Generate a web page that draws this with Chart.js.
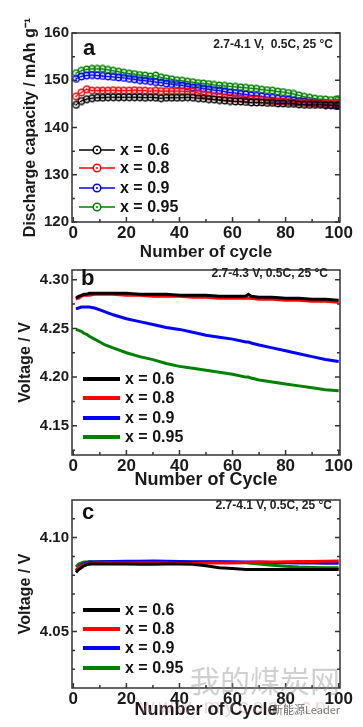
<!DOCTYPE html>
<html>
<head>
<meta charset="utf-8">
<title>Capacidad de descarga y voltaje por ciclo</title>
<script src="https://cdn.jsdelivr.net/npm/chart.js@4.4.0/dist/chart.umd.min.js"></script>
<style>
  body { margin: 0; background: #fff; }
  #wrap { position: relative; width: 363px; height: 727px; overflow: hidden; }
  canvas { position: absolute; left: 0; }
</style>
</head>
<body>
<div id="wrap">
  <canvas id="chartA" width="363" height="261" style="top:0px"></canvas>
  <canvas id="chartB" width="363" height="231" style="top:258px"></canvas>
  <canvas id="chartC" width="363" height="231" style="top:488px"></canvas>
</div>
<script>
// Series
const seriesNames = ['x = 0.6', 'x = 0.8', 'x = 0.9', 'x = 0.95'];
const seriesColors = ['#000000', '#ff0000', '#0000ff', '#008000'];

// Panel a: discharge capacity (mAh/g)
const cyclesA = [1, 3, 5, 7, 9, 11, 13, 15, 17, 19,
    21, 23, 25, 27, 29, 31, 33, 35, 37, 39,
    41, 43, 45, 47, 49, 51, 53, 55, 57, 59,
    61, 63, 65, 67, 69, 71, 73, 75, 77, 79,
    81, 83, 85, 87, 89, 91, 93, 95, 97, 99, 100];
const capA06 = [144.8, 145.6, 146.0, 146.2, 146.3, 146.3, 146.4, 146.4, 146.4, 146.4,
    146.4, 146.4, 146.4, 146.3, 146.4, 146.3, 146.2, 146.3, 146.3, 146.3,
    146.3, 146.4, 146.3, 146.2, 146.1, 146.0, 145.9, 145.8, 145.7, 145.6,
    145.5, 145.5, 145.4, 145.3, 145.3, 145.3, 145.2, 145.2, 145.1, 145.1,
    145.0, 145.0, 144.9, 144.8, 144.8, 144.8, 144.8, 144.7, 144.7, 144.6, 144.6];
const capA08 = [146.6, 147.4, 148.1, 147.8, 147.8, 147.8, 147.8, 147.9, 147.8, 147.8,
    147.8, 147.9, 147.8, 147.8, 147.7, 147.8, 147.7, 147.7, 147.7, 147.7,
    147.7, 147.6, 147.6, 147.3, 147.0, 146.8, 146.6, 146.5, 146.4, 146.3,
    146.2, 146.1, 146.0, 145.9, 145.9, 145.8, 145.7, 145.6, 145.5, 145.5,
    145.4, 145.3, 145.3, 145.2, 145.2, 145.1, 145.1, 145.0, 145.0, 145.0, 145.0];
const capA09 = [150.3, 150.8, 151.0, 151.1, 151.0, 150.9, 150.8, 150.7, 150.6, 150.5,
    150.3, 150.2, 150.0, 149.9, 149.8, 149.6, 149.5, 149.3, 149.2, 149.0,
    148.9, 148.7, 148.5, 148.4, 148.2, 148.1, 147.9, 147.8, 147.6, 147.4,
    147.3, 147.1, 147.0, 146.8, 146.7, 146.6, 146.4, 146.3, 146.1, 146.0,
    145.9, 145.7, 145.6, 145.5, 145.3, 145.2, 145.1, 144.9, 144.8, 144.6, 144.6];
const capA095 = [151.5, 152.0, 152.3, 152.4, 152.4, 152.4, 152.2, 152.0, 151.8, 151.6,
    151.4, 151.3, 151.1, 151.0, 150.8, 151.0, 150.6, 150.4, 150.2, 150.0,
    149.9, 149.7, 149.6, 149.4, 149.3, 149.2, 149.0, 148.9, 148.8, 148.7,
    148.6, 148.5, 148.4, 148.3, 148.2, 148.0, 147.9, 147.8, 147.6, 147.5,
    147.3, 147.1, 146.8, 146.5, 146.3, 146.1, 146.0, 145.9, 145.8, 145.9, 146.0];

// Panel b: voltage, 2.7-4.3 V
const cyclesB = [1, 2, 3, 4, 5, 6, 8, 10, 12, 15, 20, 25, 30, 35, 40, 45, 50, 55, 60, 65,
    66, 67, 70, 75, 80, 85, 90, 95, 100];
const voltB06 = [4.281, 4.283, 4.284, 4.285, 4.285, 4.286, 4.286, 4.286, 4.286, 4.286,
    4.286, 4.285, 4.285, 4.285, 4.284, 4.284, 4.284, 4.283, 4.283, 4.283,
    4.285, 4.283, 4.282, 4.282, 4.281, 4.281, 4.280, 4.280, 4.279];
const voltB08 = [4.280, 4.281, 4.283, 4.284, 4.284, 4.284, 4.285, 4.285, 4.285, 4.285,
    4.284, 4.284, 4.283, 4.283, 4.283, 4.282, 4.282, 4.281, 4.281, 4.281,
    4.281, 4.281, 4.280, 4.280, 4.279, 4.279, 4.278, 4.278, 4.277];
const voltB09 = [4.270, 4.271, 4.272, 4.272, 4.272, 4.272, 4.271, 4.269, 4.267, 4.264,
    4.260, 4.257, 4.254, 4.251, 4.249, 4.246, 4.243, 4.241, 4.239, 4.236,
    4.236, 4.235, 4.233, 4.230, 4.227, 4.224, 4.221, 4.218, 4.216];
const voltB095 = [4.249, 4.248, 4.247, 4.245, 4.244, 4.242, 4.239, 4.236, 4.233, 4.230,
    4.225, 4.221, 4.218, 4.214, 4.211, 4.209, 4.207, 4.205, 4.203, 4.200,
    4.200, 4.199, 4.197, 4.195, 4.193, 4.191, 4.189, 4.187, 4.186];

// Panel c: voltage, 2.7-4.1 V
const cyclesC = [1, 2, 3, 4, 5, 6, 8, 10, 15, 20, 25, 30, 35, 40, 45, 50, 55, 60, 65, 70,
    75, 80, 85, 90, 95, 100];
const voltC06 = [4.0815, 4.083, 4.084, 4.085, 4.0855, 4.086, 4.086, 4.086, 4.086, 4.086,
    4.0858, 4.0858, 4.086, 4.086, 4.0858, 4.085, 4.084, 4.0835, 4.083, 4.083,
    4.083, 4.083, 4.083, 4.083, 4.083, 4.083];
const voltC08 = [4.0825, 4.084, 4.085, 4.0855, 4.086, 4.086, 4.0865, 4.0865, 4.0865, 4.0865,
    4.0865, 4.0865, 4.0865, 4.0862, 4.0862, 4.0865, 4.0865, 4.0865, 4.0868, 4.087,
    4.087, 4.0872, 4.0873, 4.0873, 4.0874, 4.0875];
const voltC09 = [4.0825, 4.084, 4.0855, 4.086, 4.0865, 4.087, 4.087, 4.0872, 4.0873, 4.0874,
    4.0874, 4.0875, 4.0874, 4.0873, 4.0872, 4.0872, 4.0871, 4.0871, 4.087, 4.087,
    4.0868, 4.0866, 4.0865, 4.0865, 4.0864, 4.0863];
const voltC095 = [4.0845, 4.086, 4.0865, 4.087, 4.087, 4.0872, 4.0872, 4.0872, 4.0871, 4.087,
    4.087, 4.087, 4.087, 4.087, 4.087, 4.087, 4.087, 4.0868, 4.0866, 4.086,
    4.0853, 4.0847, 4.0843, 4.0841, 4.084, 4.084];

// Ticks
const xTicks = [0, 20, 40, 60, 80, 100];
const xMinor = [10, 30, 50, 70, 90];
const yTicksA = [120, 130, 140, 150, 160];
const yMinorA = [125, 135, 145, 155];
const yTicksB = [4.15, 4.20, 4.25, 4.30];
const yMinorB = [4.125, 4.175, 4.225, 4.275];
const yTicksC = [4.05, 4.10];
const yMinorC = [4.03, 4.04, 4.06, 4.07, 4.08, 4.09, 4.11];

Chart.defaults.font.family = "'Liberation Sans', Arial, sans-serif";
Chart.defaults.color = '#1a1a1a';

// marcador: circulo con punto central
function ringDot(color) {
    const c = document.createElement('canvas');
    c.width = 9; c.height = 9;
    const g = c.getContext('2d');
    g.strokeStyle = color; g.lineWidth = 1.4;
    g.beginPath(); g.arc(4.5, 4.5, 3.2, 0, Math.PI * 2); g.stroke();
    g.fillStyle = color;
    g.beginPath(); g.arc(4.5, 4.5, 0.9, 0, Math.PI * 2); g.fill();
    return c;
}

function makeSets(cycles, lists, withMarkers) {
    return lists.map((vals, i) => ({
        label: seriesNames[i],
        data: cycles.map((c, k) => ({ x: c, y: vals[k] })),
        borderColor: seriesColors[i],
        backgroundColor: seriesColors[i],
        borderWidth: withMarkers ? 1 : 3,
        pointStyle: withMarkers ? ringDot(seriesColors[i]) : 'circle',
        pointRadius: withMarkers ? 4 : 0,
        tension: 0
    }));
}

// caja, marcas, leyenda y textos
const decor = {
    id: 'decor',
    afterDraw(chart, args, o) {
        const ctx = chart.ctx;
        const a = chart.chartArea;
        const xs = chart.scales.x, ys = chart.scales.y;
        ctx.save();
        ctx.strokeStyle = '#333';
        ctx.lineWidth = 1.5;
        ctx.strokeRect(a.left, a.top, a.right - a.left, a.bottom - a.top);
        ctx.beginPath();
        const mark = (v, len, axis) => {
            if (axis === 'x') {
                const px = xs.getPixelForValue(v);
                ctx.moveTo(px, a.bottom); ctx.lineTo(px, a.bottom - len);
            } else {
                const py = ys.getPixelForValue(v);
                ctx.moveTo(a.left, py); ctx.lineTo(a.left + len, py);
                ctx.moveTo(a.right, py); ctx.lineTo(a.right - len, py);
            }
        };
        xTicks.forEach(v => mark(v, 5, 'x'));
        xMinor.forEach(v => mark(v, 3, 'x'));
        o.yMajor.forEach(v => mark(v, 5, 'y'));
        o.yMinor.forEach(v => mark(v, 3, 'y'));
        ctx.stroke();

        // leyenda
        ctx.font = "bold 16px 'Liberation Sans', Arial, sans-serif";
        ctx.textBaseline = 'middle';
        ctx.textAlign = 'left';
        chart.data.datasets.forEach((ds, i) => {
            const y = o.legY[i];
            ctx.strokeStyle = ds.borderColor;
            ctx.lineWidth = o.legWidth;
            ctx.beginPath();
            ctx.moveTo(o.legX, y); ctx.lineTo(o.legX + o.legLen, y);
            ctx.stroke();
            if (o.legMarker) {
                ctx.fillStyle = '#fff';
                ctx.beginPath(); ctx.arc(o.legX + o.legLen / 2, y, 3.8, 0, Math.PI * 2); ctx.fill();
                ctx.lineWidth = 1.5;
                ctx.stroke();
                ctx.fillStyle = ds.borderColor;
                ctx.beginPath(); ctx.arc(o.legX + o.legLen / 2, y, 1, 0, Math.PI * 2); ctx.fill();
            }
            ctx.fillStyle = '#111';
            ctx.fillText(ds.label, o.legX + o.legLen + 5, y + 1);
        });

        // letra del panel y condiciones
        ctx.textBaseline = 'alphabetic';
        ctx.font = "bold 22px 'Liberation Sans', Arial, sans-serif";
        ctx.fillText(o.letter[0], o.letter[1], o.letter[2]);
        ctx.font = "bold 12px 'Liberation Sans', Arial, sans-serif";
        ctx.textAlign = 'right';
        ctx.fillStyle = '#222';
        ctx.fillText(o.note[0], o.note[1], o.note[2]);

        // marca de agua
        if (o.watermark) {
            ctx.textAlign = 'left';
            ctx.textBaseline = 'middle';
            ctx.fillStyle = 'rgba(150,150,150,0.45)';
            ctx.font = "30px 'Noto Sans CJK SC', sans-serif";
            ctx.fillText('我的煤炭网', 190, 193);
            ctx.fillStyle = 'rgba(215,140,140,0.35)';
            ctx.font = "20px 'Liberation Sans', Arial, sans-serif";
            ctx.letterSpacing = '4px';
            ctx.fillText('www.mycoal.cn', 140, 219);
            ctx.letterSpacing = '0px';
            ctx.fillStyle = 'rgba(80,80,80,0.8)';
            ctx.font = "11px 'Noto Sans CJK SC', sans-serif";
            ctx.fillText('新能源Leader', 272, 222);
        }
        ctx.restore();
    }
};

function makeChart(id, p) {
    return new Chart(document.getElementById(id), {
        type: 'line',
        data: { datasets: p.sets },
        options: {
            responsive: false,
            animation: false,
            devicePixelRatio: 1,
            layout: { padding: { top: p.padTop, right: 23, left: 0, bottom: 0 } },
            scales: {
                x: {
                    type: 'linear', min: -0.5, max: 100.5,
                    grid: { display: false, drawTicks: false },
                    border: { display: false },
                    afterBuildTicks: s => { s.ticks = xTicks.map(v => ({ value: v })); },
                    afterFit: s => { s.height = p.xHeight; },
                    ticks: { font: { size: 17, weight: 'bold' }, padding: 1, maxRotation: 0, autoSkip: false },
                    title: {
                        display: true, text: p.xTitle,
                        font: { size: p.xTitleSize, weight: 'bold', lineHeight: 1 },
                        padding: { top: 0, bottom: 0 }
                    }
                },
                y: {
                    min: p.yMin, max: p.yMax,
                    grid: { display: false, drawTicks: false },
                    border: { display: false },
                    afterBuildTicks: s => { s.ticks = p.yTicks.map(v => ({ value: v })); },
                    afterFit: s => { s.width = 72; },
                    ticks: {
                        font: { size: 15, weight: 'bold' }, padding: 3,
                        callback: v => p.yFmt(v)
                    },
                    title: {
                        display: true, text: p.yTitle,
                        font: { size: 16, weight: 'bold', lineHeight: 1 },
                        padding: { top: p.yTitlePad, bottom: 0 }
                    }
                }
            },
            plugins: {
                legend: { display: false },
                tooltip: { enabled: false },
                decor: p.decor
            }
        },
        plugins: [decor]
    });
}

makeChart('chartA', {
    sets: makeSets(cyclesA, [capA06, capA08, capA09, capA095], true),
    padTop: 33, xHeight: 39, yMin: 120, yMax: 160, yTicks: yTicksA,
    yFmt: v => String(v), yTitle: 'Discharge capacity / mAh g\u207B\u00B9', yTitlePad: 23,
    xTitle: 'Number of cycle', xTitleSize: 17,
    decor: {
        yMajor: yTicksA, yMinor: yMinorA,
        legX: 79, legLen: 36, legWidth: 1.5, legMarker: true, legY: [150, 168, 188, 207],
        letter: ['a', 83, 55], note: ['2.7-4.1 V,  0.5C, 25 \u00B0C', 333, 48]
    }
});

makeChart('chartB', {
    sets: makeSets(cyclesB, [voltB06, voltB08, voltB09, voltB095], false),
    padTop: 6, xHeight: 34, yMin: 4.12, yMax: 4.31, yTicks: yTicksB,
    yFmt: v => v.toFixed(2), yTitle: 'Voltage / V', yTitlePad: 18,
    xTitle: 'Number of Cycle', xTitleSize: 18,
    decor: {
        yMajor: yTicksB, yMinor: yMinorB,
        legX: 83, legLen: 37, legWidth: 4, legMarker: false, legY: [121, 140, 160, 179],
        letter: ['b', 81, 27], note: ['2.7-4.3 V, 0.5C, 25 \u00B0C', 328, 19]
    }
});

makeChart('chartC', {
    sets: makeSets(cyclesC, [voltC06, voltC08, voltC09, voltC095], false),
    padTop: 6, xHeight: 31, yMin: 4.02, yMax: 4.12, yTicks: yTicksC,
    yFmt: v => v.toFixed(2), yTitle: 'Voltage / V', yTitlePad: 18,
    xTitle: 'Number of Cycle', xTitleSize: 18,
    decor: {
        yMajor: yTicksC, yMinor: yMinorC,
        legX: 83, legLen: 37, legWidth: 4, legMarker: false, legY: [122, 141, 160, 180],
        letter: ['c', 82, 31], note: ['2.7-4.1 V, 0.5C, 25 \u00B0C', 332, 21],
        watermark: true
    }
});
</script>
</body>
</html>
